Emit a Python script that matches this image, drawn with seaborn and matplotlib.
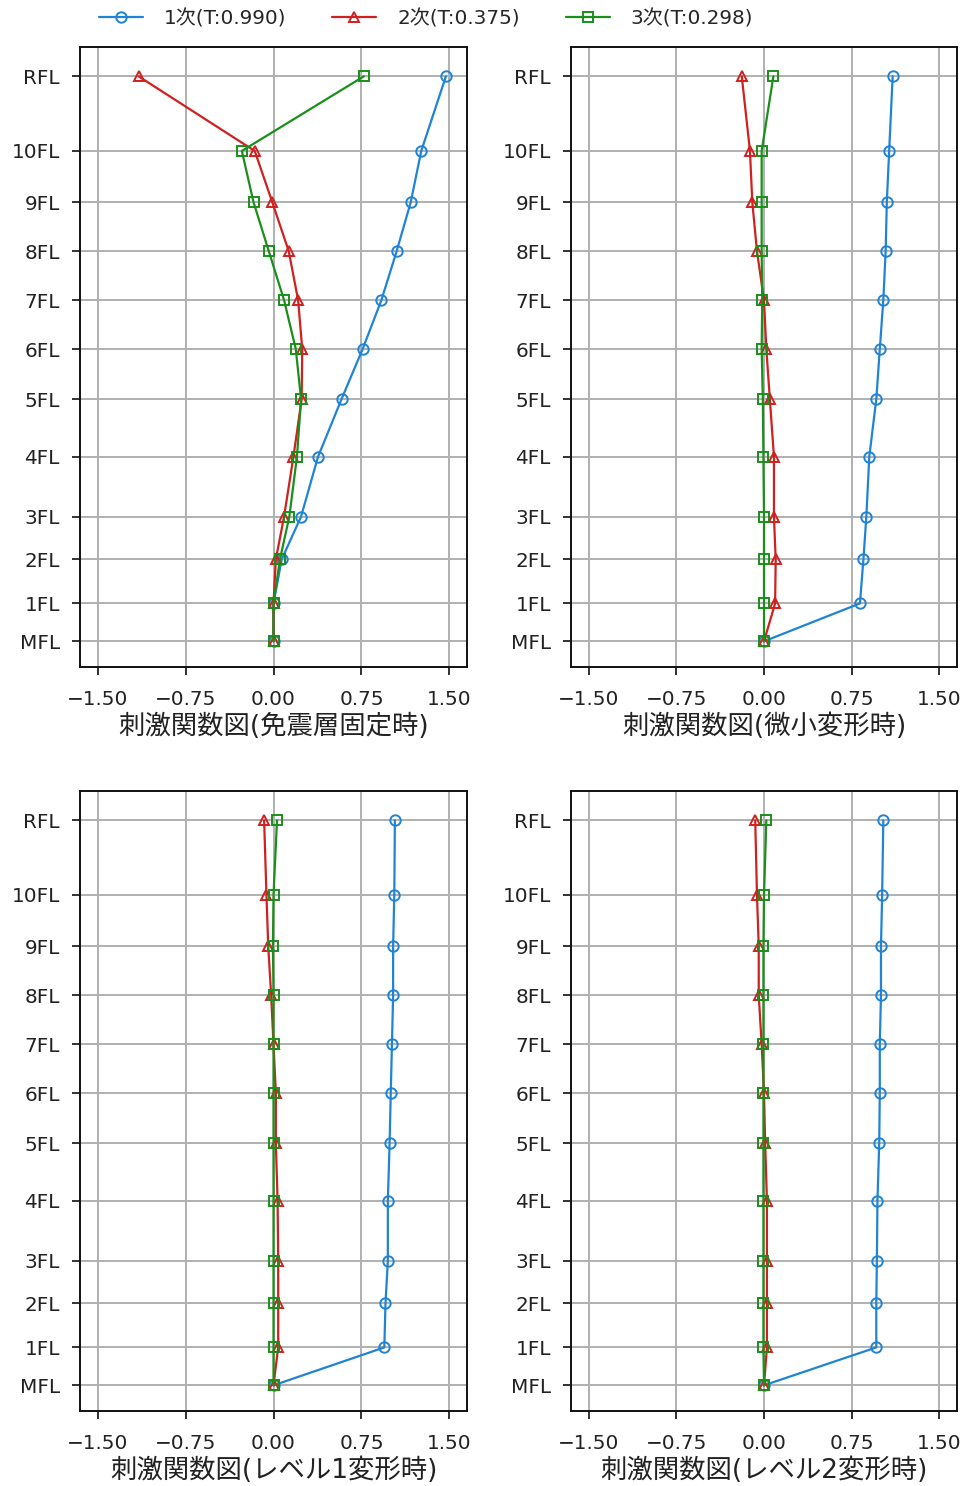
import matplotlib
matplotlib.use("Agg")
import matplotlib.pyplot as plt
import seaborn as sns
import pandas as pd

floors = ["MFL", "1FL", "2FL", "3FL", "4FL", "5FL", "6FL", "7FL", "8FL", "9FL", "10FL", "RFL"]
heights = [0.0, 3.1, 6.7, 10.2, 15.1, 19.8, 23.9, 27.9, 31.9, 35.9, 40.1, 46.2]
series_labels = ["1次(T:0.990)", "2次(T:0.375)", "3次(T:0.298)"]
panel_titles = ["刺激関数図(免震層固定時)", "刺激関数図(微小変形時)",
                "刺激関数図(レベル1変形時)", "刺激関数図(レベル2変形時)"]
x_ticks = [-1.50, -0.75, 0.00, 0.75, 1.50]

# panel 1: 免震層固定時
fixed_m1 = [0, 0, 0.07, 0.235, 0.38, 0.58, 0.76, 0.92, 1.05, 1.17, 1.26, 1.47]
fixed_m2 = [0, 0, 0.02, 0.09, 0.17, 0.24, 0.245, 0.21, 0.13, -0.01, -0.16, -1.15]
fixed_m3 = [0, 0, 0.055, 0.135, 0.20, 0.235, 0.19, 0.09, -0.04, -0.17, -0.27, 0.77]
# panel 2: 微小変形時
small_m1 = [0, 0.82, 0.85, 0.875, 0.90, 0.96, 0.99, 1.02, 1.04, 1.05, 1.07, 1.10]
small_m2 = [0, 0.095, 0.10, 0.085, 0.085, 0.05, 0.02, 0.0, -0.06, -0.10, -0.12, -0.19]
small_m3 = [0, 0, 0, 0, -0.005, -0.01, -0.02, -0.015, -0.02, -0.02, -0.02, 0.08]
# panel 3: レベル1変形時
lv1_m1 = [0, 0.945, 0.955, 0.975, 0.975, 0.99, 1.0, 1.01, 1.02, 1.02, 1.03, 1.035]
lv1_m2 = [0, 0.04, 0.04, 0.04, 0.035, 0.02, 0.02, 0.0, -0.02, -0.045, -0.06, -0.08]
lv1_m3 = [0, 0, 0, 0, 0, 0, 0, 0, 0, -0.005, 0.0, 0.03]
# panel 4: レベル2変形時
lv2_m1 = [0, 0.96, 0.96, 0.965, 0.97, 0.985, 0.99, 0.99, 1.0, 1.0, 1.01, 1.02]
lv2_m2 = [0, 0.025, 0.025, 0.025, 0.025, 0.01, 0.0, -0.02, -0.045, -0.045, -0.06, -0.075]
lv2_m3 = [0, -0.005, -0.005, -0.005, -0.005, -0.005, -0.005, -0.005, -0.005, -0.005, 0.0, 0.02]

panels = [
    [fixed_m1, fixed_m2, fixed_m3],
    [small_m1, small_m2, small_m3],
    [lv1_m1, lv1_m2, lv1_m3],
    [lv2_m1, lv2_m2, lv2_m3],
]

colors = ["#1f84d6", "#d0201f", "#1a8f1a"]
markers = ["o", "^", "s"]

sns.set_style("ticks")
plt.rcParams["font.family"] = ["DejaVu Sans", "Noto Sans CJK JP"]
plt.rcParams["axes.unicode_minus"] = True

fig = plt.figure(figsize=(9.64, 14.86), dpi=100)
positions = [
    [80 / 964, 1 - 667 / 1486, 387 / 964, 620 / 1486],
    [571 / 964, 1 - 667 / 1486, 386 / 964, 620 / 1486],
    [80 / 964, 1 - 1411 / 1486, 387 / 964, 620 / 1486],
    [571 / 964, 1 - 1411 / 1486, 386 / 964, 620 / 1486],
]

handles = []
for pi, (pos, data) in enumerate(zip(positions, panels)):
    ax = fig.add_axes(pos)
    for si, vals in enumerate(data):
        df = pd.DataFrame({"x": vals, "h": heights})
        sns.lineplot(data=df, x="x", y="h", ax=ax, sort=False, orient="y",
                     estimator=None, color=colors[si], marker=markers[si],
                     markersize=7.5, markerfacecolor="none",
                     markeredgecolor=colors[si], markeredgewidth=1.4,
                     linewidth=1.6, label=series_labels[si], legend=False)
    if pi == 0:
        handles = ax.get_lines()[:3]
    leg = ax.get_legend()
    if leg is not None:
        leg.remove()
    ax.set_xlim(-1.65, 1.65)
    ax.set_ylim(-2.1, 48.6)
    ax.set_xticks(x_ticks)
    ax.set_xticklabels([f"{t:.2f}".replace("-", "\u2212") for t in x_ticks])
    ax.set_yticks(heights)
    ax.set_yticklabels(floors)
    ax.grid(True, color="#b0b0b0", linewidth=1.4)
    ax.set_axisbelow(True)
    ax.set_ylabel("")
    ax.set_xlabel(panel_titles[pi], fontsize=19, color="#222222", labelpad=3.5)
    ax.tick_params(axis="both", labelsize=14.4, length=6, width=1.3,
                   colors="#222222", labelcolor="#222222")
    ax.tick_params(axis="x", pad=10.5)
    ax.tick_params(axis="y", pad=8.6)
    for sp in ax.spines.values():
        sp.set_color("#111111")
        sp.set_linewidth(1.4)

fig.legend(handles, series_labels, loc="center", bbox_to_anchor=(0.442, 0.9875),
           ncol=3, frameon=False, fontsize=14.4, handlelength=2.2, columnspacing=2.3,
           handletextpad=1.05)

fig.savefig("out.png", dpi=100)
